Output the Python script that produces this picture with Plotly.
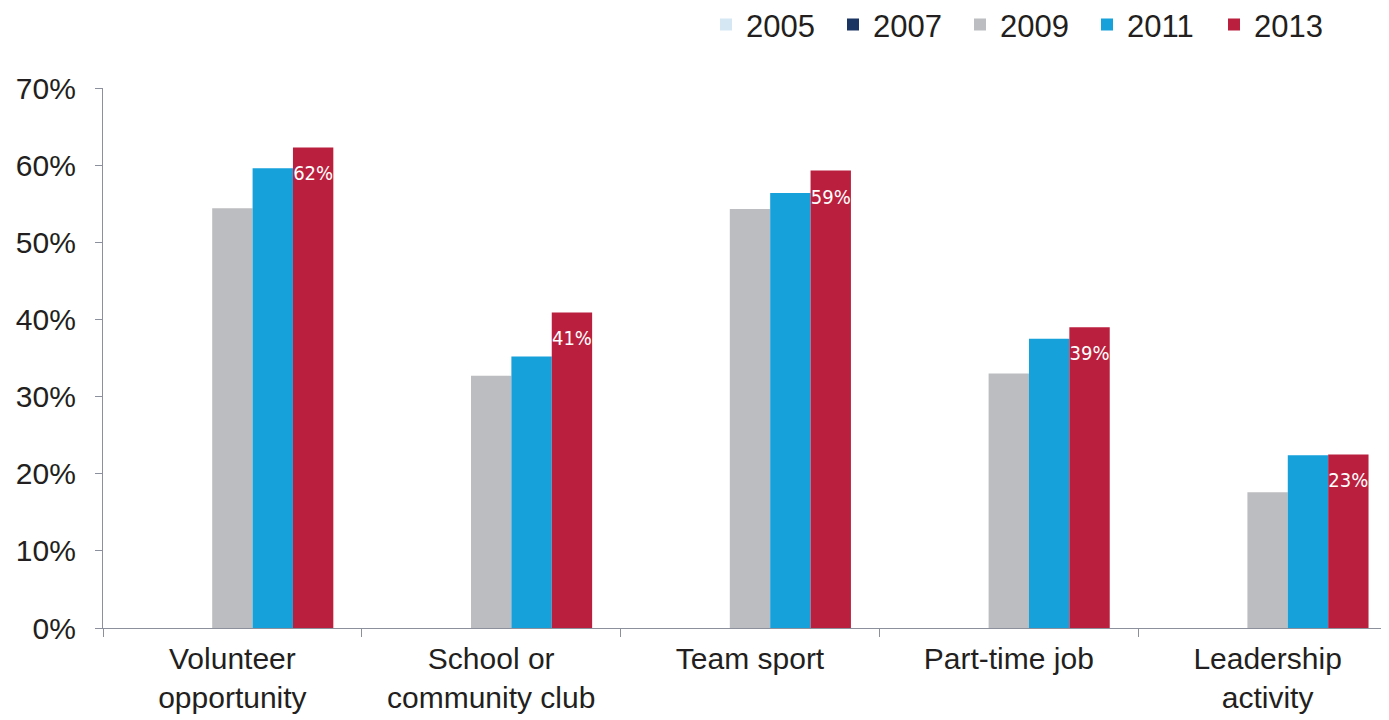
import plotly.graph_objects as go

categories = ["Volunteer<br>opportunity", "School or<br>community club", "Team sport",
              "Part-time job", "Leadership<br>activity"]
years = ["2005", "2007", "2009", "2011", "2013"]
v2005 = [None, None, None, None, None]
v2007 = [None, None, None, None, None]
v2009 = [54.4, 32.7, 54.3, 33.0, 17.6]
v2011 = [59.6, 35.2, 56.4, 37.5, 22.4]
v2013 = [62.3, 40.9, 59.3, 39.0, 22.5]
labels2013 = ["62%", "41%", "59%", "39%", "23%"]
y_ticks = [0, 10, 20, 30, 40, 50, 60, 70]
y_ticktext = ["0%", "10%", "20%", "30%", "40%", "50%", "60%", "70%"]

colors = ["#d6e7f4", "#1b3563", "#bcbdc0", "#16a1db", "#bb1f3e"]
series = [v2005, v2007, v2009, v2011, v2013]

fig = go.Figure()
for yr, vals, col in zip(years, series, colors):
    kw = {}
    if yr == "2013":
        kw = dict(text=labels2013, texttemplate="<span style='font-size:4px'> </span><br>%{text}",
                  textposition="inside", insidetextanchor="end", constraintext="none",
                  textfont=dict(family="Liberation Sans Narrow, DejaVu Sans Condensed, Arial Narrow, sans-serif",
                                size=20, color="white"),
                  textangle=0)
    fig.add_trace(go.Bar(name=yr, x=categories, y=vals, marker=dict(color=col, line=dict(width=0)),
                         cliponaxis=False, **kw))

fig.update_layout(
    width=1389, height=720,
    barmode="group", bargap=0.22, bargroupgap=0,
    plot_bgcolor="white", paper_bgcolor="white",
    margin=dict(l=95, r=0, t=80, b=100, autoexpand=False),
    font=dict(family="Liberation Sans, Arial, sans-serif", size=30, color="#231f20"),
    legend=dict(orientation="h", x=0.466, xanchor="left", y=1.117, yanchor="middle",
                font=dict(size=31), itemwidth=30, entrywidth=82, entrywidthmode="pixels",
                traceorder="normal", bgcolor="rgba(0,0,0,0)"),
    showlegend=True,
)
fig.update_yaxes(range=[0, 70], tickvals=y_ticks, ticktext=y_ticktext, showgrid=False,
                 showline=True, linecolor="#8c909d", linewidth=1.2,
                 ticks="outside", ticklen=7, tickcolor="#8c909d", zeroline=False,
                 ticklabelstandoff=13, tickfont=dict(size=30))
fig.update_xaxes(showline=True, linecolor="#8c909d", linewidth=1.2, ticks="outside",
                 tickson="boundaries", ticklen=8, tickcolor="#8c909d", showgrid=False,
                 ticklabelstandoff=4, tickfont=dict(size=30))

fig.write_html("out.html")
